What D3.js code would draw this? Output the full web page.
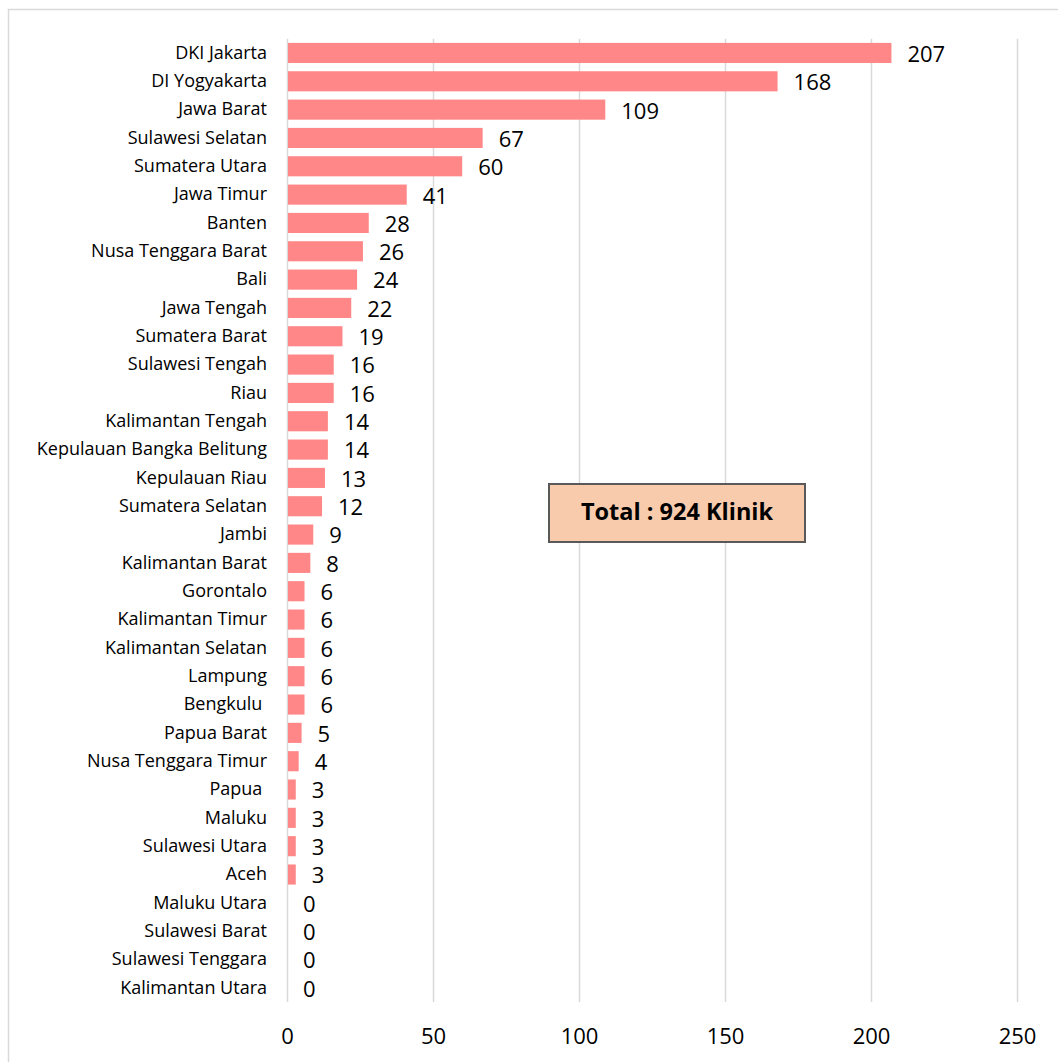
<!DOCTYPE html>
<html lang="id">
<head>
<meta charset="UTF-8">
<title>Klinik per Provinsi</title>
<script src="https://cdn.jsdelivr.net/npm/d3@7"></script>
<style>
  * { margin: 0; padding: 0; }
  body { background: #fff; }
  text { font-family: "Open Sans", "Noto Sans", sans-serif; fill: #000; white-space: pre; }
</style>
</head>
<body>
<svg></svg>
<script>
  // "Bengkulu " and "Papua " keep the trailing space they have in the source sheet
  const provinces = ['DKI Jakarta', 'DI Yogyakarta', 'Jawa Barat', 'Sulawesi Selatan', 'Sumatera Utara',
    'Jawa Timur', 'Banten', 'Nusa Tenggara Barat', 'Bali', 'Jawa Tengah', 'Sumatera Barat',
    'Sulawesi Tengah', 'Riau', 'Kalimantan Tengah', 'Kepulauan Bangka Belitung', 'Kepulauan Riau',
    'Sumatera Selatan', 'Jambi', 'Kalimantan Barat', 'Gorontalo', 'Kalimantan Timur',
    'Kalimantan Selatan', 'Lampung', 'Bengkulu ', 'Papua Barat', 'Nusa Tenggara Timur', 'Papua ',
    'Maluku', 'Sulawesi Utara', 'Aceh', 'Maluku Utara', 'Sulawesi Barat', 'Sulawesi Tenggara',
    'Kalimantan Utara'];
  const clinics = [207, 168, 109, 67, 60, 41, 28, 26, 24, 22, 19, 16, 16, 14, 14, 13, 12, 9, 8,
    6, 6, 6, 6, 6, 5, 4, 3, 3, 3, 3, 0, 0, 0, 0];
  const xTicks = [0, 50, 100, 150, 200, 250];
  const totalLabel = 'Total : 924 Klinik';

  const width = 1058, height = 1062;
  const svg = d3.select('svg').attr('width', width).attr('height', height);

  // outer chart frame
  svg.append('rect')
    .attr('x', 8.5).attr('y', 9.5)
    .attr('width', width + 10).attr('height', height + 10)
    .attr('fill', 'none').attr('stroke', '#d9d9d9').attr('stroke-width', 1.5);

  const plot = { left: 287, right: 1017, top: 38.8, bottom: 1002 };

  const x = d3.scaleLinear().domain([0, 250]).range([plot.left, plot.right]);
  const y = d3.scaleBand().domain(provinces).range([plot.top, plot.bottom]).paddingInner(0.29).paddingOuter(0.145);

  // gridlines
  svg.append('g').selectAll('line')
    .data(xTicks).enter().append('line')
    .attr('x1', d => x(d) + 0.5).attr('x2', d => x(d) + 0.5)
    .attr('y1', plot.top).attr('y2', plot.bottom)
    .attr('stroke', '#d9d9d9').attr('stroke-width', 1.5);

  // bars
  svg.append('g').selectAll('rect')
    .data(provinces).enter().append('rect')
    .attr('x', x(0) + 1)
    .attr('y', d => y(d))
    .attr('width', (d, i) => Math.max(0, x(clinics[i]) - x(0) - 1))
    .attr('height', y.bandwidth())
    .attr('fill', '#ff8787');

  // value labels
  svg.append('g').selectAll('text')
    .data(provinces).enter().append('text')
    .attr('x', (d, i) => x(clinics[i]) + 16)
    .attr('y', d => y(d) + y.bandwidth() / 2 + 3)
    .attr('dominant-baseline', 'middle')
    .attr('font-size', 22)
    .text((d, i) => clinics[i]);

  // category axis
  const yAxis = svg.append('g')
    .attr('transform', `translate(${plot.left - 20},0)`)
    .call(d3.axisLeft(y).tickSize(0).tickPadding(0));
  yAxis.select('.domain').remove();
  yAxis.selectAll('text')
    .attr('font-size', 18)
    .attr('font-family', '"Open Sans", sans-serif')
    .attr('fill', '#000');

  // value axis
  const xAxis = svg.append('g')
    .attr('transform', `translate(0,${plot.bottom})`)
    .call(d3.axisBottom(x).tickValues(xTicks).tickSize(0).tickPadding(26));
  xAxis.select('.domain').remove();
  xAxis.selectAll('text')
    .attr('font-size', 22)
    .attr('font-family', '"Open Sans", sans-serif')
    .attr('fill', '#000');

  // total box
  const box = svg.append('g').attr('transform', 'translate(549,484)');
  box.append('rect')
    .attr('width', 256).attr('height', 58)
    .attr('fill', '#f8cbad').attr('stroke', '#595959').attr('stroke-width', 2);
  box.append('text')
    .attr('x', 128).attr('y', 30)
    .attr('text-anchor', 'middle').attr('dominant-baseline', 'middle')
    .attr('font-size', 23.5).attr('font-weight', 'bold')
    .text(totalLabel);
</script>
</body>
</html>
